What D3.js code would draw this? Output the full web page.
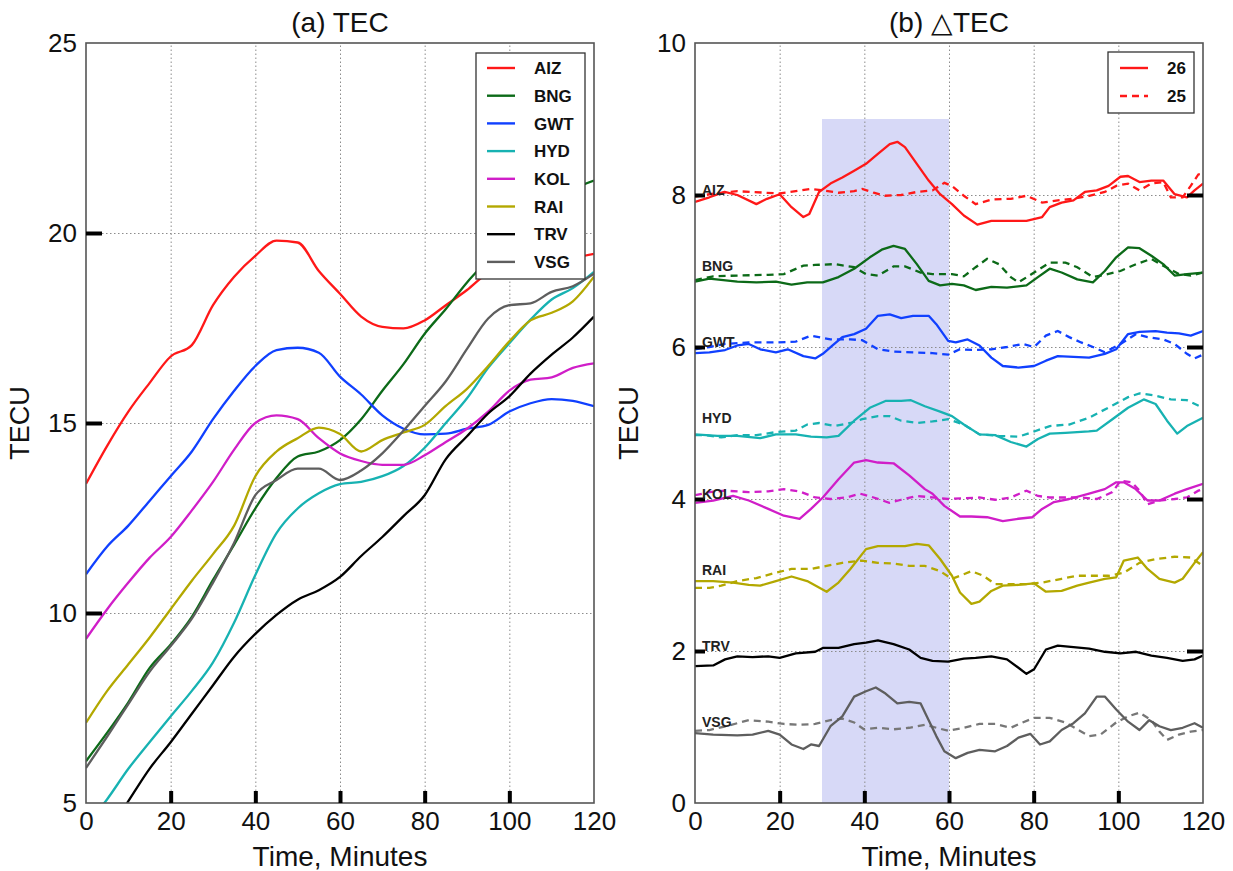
<!DOCTYPE html>
<html><head><meta charset="utf-8">
<script src="https://cdn.jsdelivr.net/npm/d3@7"></script>
<style>
body{margin:0;background:#fff;}
text{font-family:"Liberation Sans",Arial,Helvetica,sans-serif;}
</style></head><body>
<svg id="chart" width="1233" height="871"></svg>
<script>
// ---------------- DATA ----------------
const stations = ["AIZ","BNG","GWT","HYD","KOL","RAI","TRV","VSG"];
const stationColors = ["#ff1818","#0c6a18","#1040ff","#17b2b2","#d01ec8","#b3a800","#000000","#5e5e5e"];
const dashedColors  = ["#ff1818","#0c6a18","#1040ff","#17b2b2","#d01ec8","#b3a800","#000000","#777777"];

// (a) TEC, sampled every 5 minutes
const minutesA = [0,5,10,15,20,25,30,35,40,45,50,55,60,65,70,75,80,85,90,95,100,105,110,115,120];
const tecAIZ = [13.4,14.4,15.3,16.05,16.75,17.05,18.1,18.85,19.4,19.8,19.75,19.0,18.4,17.8,17.53,17.49,17.7,18.1,18.5,18.95,19.1,19.2,19.3,19.35,19.45];
const tecBNG = [6.1,6.85,7.65,8.55,9.17,9.9,10.87,11.8,12.75,13.55,14.12,14.25,14.55,15.1,15.85,16.55,17.35,18.0,18.7,19.3,19.9,20.4,20.8,21.15,21.38];
const tecGWT = [11.02,11.75,12.3,12.95,13.6,14.25,15.1,15.85,16.5,16.92,16.98,16.85,16.22,15.75,15.2,14.85,14.7,14.72,14.85,14.95,15.3,15.52,15.63,15.58,15.44];
const tecHYD = [4.4,5.1,5.9,6.6,7.28,7.95,8.7,9.75,11.0,12.1,12.75,13.15,13.39,13.45,13.6,13.87,14.35,15.0,15.65,16.45,17.1,17.72,18.25,18.55,18.98];
const tecKOL = [9.32,10.1,10.8,11.45,12.0,12.7,13.45,14.3,15.0,15.2,15.1,14.6,14.2,14.0,13.9,13.9,14.15,14.5,14.85,15.3,15.85,16.14,16.2,16.45,16.57];
const tecRAI = [7.11,7.95,8.65,9.35,10.1,10.85,11.55,12.3,13.6,14.25,14.6,14.88,14.71,14.25,14.55,14.75,14.95,15.45,15.9,16.5,17.15,17.7,17.9,18.2,18.85];
const tecTRV = [3.3,4.2,5.05,5.9,6.6,7.35,8.1,8.85,9.45,9.95,10.35,10.6,10.95,11.5,12.0,12.55,13.1,14.05,14.65,15.25,15.7,16.3,16.8,17.25,17.8];
const tecVSG = [5.92,6.75,7.6,8.45,9.13,9.85,10.8,11.85,13.1,13.5,13.8,13.8,13.5,13.75,14.2,14.8,15.45,16.1,16.95,17.75,18.1,18.15,18.45,18.6,18.93];
const tecSeries = [tecAIZ,tecBNG,tecGWT,tecHYD,tecKOL,tecRAI,tecTRV,tecVSG];

// (b) ΔTEC (offset per station), [minute, value] pairs; day 26 solid, day 25 dashed
const dAIZ26 = [[0,7.91],[3.4,7.97],[7,8.04],[10,8.0],[14.5,7.88],[17,7.95],[20,8.01],[22.8,7.84],[25.6,7.71],[27,7.75],[29.3,8.04],[32,8.15],[34.8,8.23],[37.6,8.32],[40.4,8.41],[43.2,8.54],[46,8.67],[47.8,8.70],[49.6,8.63],[52.4,8.41],[55.2,8.19],[57.9,8.01],[60.7,7.88],[63.5,7.73],[66.7,7.61],[70,7.66],[74.6,7.66],[78.3,7.66],[82,7.71],[83.8,7.84],[86.6,7.9],[89.4,7.93],[92.1,8.04],[94.9,8.06],[97.7,8.12],[100.5,8.24],[102.3,8.25],[105,8.17],[107.8,8.19],[110.6,8.19],[113.3,8.01],[116.2,7.97],[118,8.06],[120,8.15]];
const dAIZ25 = [[0,7.98],[3.4,8.01],[10,8.05],[20,8.02],[23.8,8.05],[27.4,8.08],[30.2,8.06],[33.9,8.03],[37.6,8.05],[39.5,8.08],[42.2,8.03],[44.9,7.99],[48.7,8.0],[52.4,8.04],[56.1,8.06],[58.9,8.16],[60.7,8.12],[63.5,7.99],[66.3,7.88],[70,7.94],[74.6,7.95],[78.3,7.99],[82,7.9],[85.7,7.93],[89.4,7.95],[93.1,7.99],[96.8,8.04],[99.5,8.12],[102.3,8.15],[105,8.06],[107.8,8.15],[110.6,8.17],[112.4,7.97],[115.2,7.97],[117.1,8.12],[118.9,8.27],[120,8.28]];
const dBNG26 = [[0,6.86],[3.4,6.9],[10,6.86],[14.5,6.85],[19.1,6.86],[22.8,6.82],[26.5,6.85],[30.2,6.85],[33.9,6.92],[37.6,7.03],[41.3,7.18],[44.1,7.28],[46.9,7.33],[49.6,7.29],[52.4,7.09],[55.2,6.87],[57.9,6.81],[60.7,6.83],[63.5,6.81],[66.3,6.75],[70,6.79],[73.7,6.78],[78.3,6.81],[81,6.92],[83.8,7.03],[86.6,6.98],[90.3,6.89],[94,6.85],[96.8,7.0],[99.5,7.18],[102.3,7.31],[105,7.3],[107.8,7.2],[110.6,7.09],[113.3,6.94],[116.2,6.96],[120,6.98]];
const dBNG25 = [[0,6.88],[4.3,6.93],[10,6.94],[17.3,6.95],[21,6.96],[25.6,7.07],[28.4,7.08],[33,7.09],[37.6,7.05],[40.4,6.96],[43.2,6.94],[46.9,7.06],[49.6,7.06],[53.3,6.98],[56.1,6.96],[60.7,6.96],[63.5,6.93],[66.3,7.05],[69,7.16],[71.8,7.09],[74.6,6.92],[76.4,6.85],[80.1,6.98],[83.8,7.11],[87.5,7.11],[90.3,7.05],[94,6.92],[96.8,6.95],[100.5,7.0],[104.2,7.09],[107.8,7.16],[110.6,7.07],[114.3,6.96],[117.1,6.94],[120,6.98]];
const dGWT26 = [[0,5.92],[3.4,5.93],[7.1,5.96],[10,6.02],[12.7,6.04],[15.4,5.97],[19.1,5.93],[21.9,5.97],[25.6,5.88],[28.4,5.85],[30.2,5.91],[32.5,6.02],[34.8,6.13],[37.6,6.17],[40.4,6.24],[43.2,6.41],[46,6.43],[48.7,6.38],[51.5,6.41],[55.2,6.41],[57,6.3],[59.8,6.08],[61.6,6.06],[64.4,6.1],[67.2,6.02],[70,5.86],[72.7,5.75],[76.4,5.73],[80.1,5.75],[82.9,5.82],[85.7,5.88],[89.4,5.87],[93.1,5.86],[96.8,5.91],[99.5,5.97],[102.3,6.17],[105,6.2],[108.8,6.21],[111.5,6.19],[114.3,6.18],[117.1,6.15],[120,6.21]];
const dGWT25 = [[0,5.97],[3.4,6.0],[7.1,6.04],[12.7,6.06],[19.1,6.06],[23.8,6.07],[27.4,6.15],[32,6.1],[36.7,6.1],[39.5,6.09],[43.2,5.97],[46.9,5.94],[51.5,5.93],[56.1,5.92],[59.8,5.9],[62.6,5.97],[66.3,5.96],[70,5.97],[73.7,6.0],[77.4,6.04],[80.1,6.0],[82.9,6.15],[85.7,6.21],[88.4,6.13],[91.2,6.06],[94,6.0],[96.8,5.93],[100.5,6.04],[104.2,6.17],[106.9,6.13],[110.6,6.1],[113.3,6.04],[116.2,5.91],[118,5.85],[120,5.9]];
const dHYD26 = [[0,4.85],[5.3,4.83],[10,4.83],[15.4,4.8],[19.1,4.85],[23.8,4.85],[27.4,4.82],[31.1,4.81],[33.9,4.83],[37.6,5.03],[41.3,5.2],[45,5.29],[48.7,5.29],[51,5.3],[54.3,5.22],[57.9,5.15],[60.7,5.09],[63.5,4.98],[67.2,4.85],[70.9,4.84],[74.6,4.75],[78.3,4.69],[81,4.79],[83.8,4.86],[87.5,4.87],[93,4.89],[94.9,4.9],[98.6,5.05],[102.3,5.2],[106,5.31],[108.8,5.25],[111.5,5.03],[113.9,4.86],[116.2,4.96],[120,5.07]];
const dHYD25 = [[0,4.84],[2.5,4.84],[6.2,4.81],[10,4.84],[14.5,4.84],[19.1,4.88],[23.8,4.9],[26.5,4.98],[29.3,5.0],[33,4.96],[36.7,5.0],[39.5,5.05],[43.2,5.09],[46,5.09],[48.7,5.03],[52.4,5.0],[56.1,5.02],[59.8,5.05],[63.5,4.98],[67.2,4.85],[71.8,4.83],[76.4,4.82],[79.2,4.87],[83.8,4.96],[88.4,4.98],[93.1,5.07],[98.6,5.23],[102.3,5.34],[105,5.39],[108.8,5.36],[112.4,5.31],[116.2,5.3],[120,5.2]];
const dKOL26 = [[0,3.95],[4.3,3.98],[9,4.04],[12.7,3.98],[17.3,3.87],[21,3.78],[24.7,3.74],[27.4,3.87],[30.2,4.02],[33.9,4.26],[37.6,4.48],[40.4,4.51],[43.2,4.48],[46.9,4.47],[50.6,4.31],[54.3,4.13],[56.1,4.07],[58.9,3.91],[62.6,3.77],[65.3,3.77],[69,3.76],[72.7,3.71],[76.4,3.74],[79.7,3.76],[82,3.87],[84.8,3.96],[88.4,4.0],[93.1,4.07],[96.8,4.13],[99.5,4.22],[101.3,4.22],[104.1,4.13],[106.9,3.98],[109.7,3.98],[113.3,4.07],[116.2,4.13],[120,4.2]];
const dKOL25 = [[0,4.05],[3.4,4.09],[7.1,4.11],[12.7,4.09],[17.3,4.1],[21,4.13],[24.7,4.1],[28.4,4.02],[32,4.0],[35.8,4.02],[39,4.07],[42.2,4.02],[45.9,3.95],[48.7,3.99],[52.4,4.04],[56.1,4.02],[59.8,4.0],[63.5,4.01],[67.2,4.02],[70.9,3.99],[74.6,4.02],[78.3,4.11],[81,4.04],[83.8,4.02],[87.5,4.02],[91.2,4.02],[94.9,4.0],[98.6,4.09],[100.5,4.24],[103.2,4.22],[105,4.11],[106.9,3.93],[109.7,3.98],[113.3,4.0],[116.2,4.02],[118.9,4.11],[120,4.13]];
const dRAI26 = [[0,2.92],[4.3,2.92],[9,2.9],[12.7,2.87],[15.4,2.86],[19.1,2.92],[22.8,2.98],[26.5,2.92],[31.1,2.78],[33.9,2.9],[36.7,3.08],[40.4,3.34],[43.2,3.38],[46.9,3.38],[49.6,3.38],[52.4,3.41],[55.2,3.39],[57.9,3.21],[60.7,2.99],[62.6,2.77],[65.3,2.62],[67.2,2.65],[70,2.79],[72.7,2.86],[76.4,2.87],[80.1,2.89],[82.9,2.78],[86.6,2.79],[90.3,2.86],[93.1,2.9],[96.8,2.95],[99.5,2.97],[101.3,3.19],[104.6,3.23],[106.9,3.08],[109.7,2.95],[113.3,2.9],[115.2,2.95],[118,3.16],[120,3.3]];
const dRAI25 = [[0,2.83],[3.4,2.83],[6.2,2.86],[10,2.92],[14.5,2.96],[19.1,3.03],[22.8,3.08],[27.4,3.08],[31.1,3.12],[34.8,3.16],[39.4,3.19],[43.2,3.16],[46.9,3.15],[50.6,3.12],[54.3,3.12],[57.9,3.05],[60.7,2.95],[63.5,3.01],[65.3,3.05],[68.1,2.99],[70.9,2.88],[74.6,2.88],[78.3,2.88],[82,2.9],[86.6,2.95],[90.3,2.99],[94,2.99],[97.7,2.99],[101.3,3.03],[105,3.16],[108.8,3.21],[113.3,3.24],[117.1,3.23],[120,3.12]];
const dTRV26 = [[0,1.8],[4.3,1.81],[7.1,1.89],[10,1.93],[13.6,1.92],[17.3,1.93],[20,1.91],[23.8,1.97],[28.4,1.99],[30.2,2.04],[33.9,2.04],[37.6,2.09],[40.4,2.11],[43.2,2.14],[46.9,2.09],[50.6,2.02],[53.3,1.91],[56.1,1.87],[59.8,1.86],[63.5,1.9],[66.3,1.91],[70,1.93],[73.7,1.89],[76.4,1.78],[78.3,1.7],[80.1,1.76],[82.9,2.02],[85.7,2.07],[89.4,2.05],[93.1,2.03],[96.8,1.99],[100.5,1.97],[104.2,1.99],[107.8,1.94],[111.5,1.91],[115.2,1.87],[118,1.89],[120,1.94]];
const dTRV25 = [];
const dVSG26 = [[0,0.92],[4.3,0.9],[10,0.89],[13.6,0.9],[17.3,0.95],[20,0.9],[22.8,0.77],[25.6,0.71],[27.4,0.77],[29.3,0.75],[32,1.01],[34.8,1.14],[37.6,1.4],[40.4,1.47],[42.7,1.52],[45,1.44],[47.8,1.31],[50.6,1.33],[53.3,1.31],[55.2,1.09],[57,0.88],[58.9,0.68],[61.6,0.59],[64.4,0.66],[67.2,0.7],[70.9,0.68],[73.7,0.75],[76.4,0.86],[79.2,0.91],[81.5,0.77],[83.8,0.81],[86.6,0.96],[89.4,1.05],[92.1,1.18],[94.9,1.4],[96.8,1.4],[99.5,1.23],[102.3,1.07],[105,0.96],[107.3,1.09],[109.7,1.01],[112.4,0.96],[115.2,0.99],[118,1.05],[120,0.99]];
const dVSG25 = [[0,0.95],[3.4,0.96],[8,1.02],[12.7,1.09],[17.3,1.07],[21,1.04],[24.7,1.03],[28.4,1.04],[32,1.09],[34.8,1.11],[37.6,1.06],[39.9,0.97],[43.2,0.99],[46.9,0.97],[50.6,0.99],[54.3,1.03],[57,0.99],[59.8,0.95],[63.5,0.99],[67.2,1.04],[70.9,1.04],[74.6,0.99],[77.4,1.06],[80.1,1.12],[83.8,1.12],[87.5,1.06],[90.3,0.97],[93.1,0.88],[95.8,0.9],[99.5,1.06],[102.3,1.14],[105,1.19],[107.8,1.09],[109.7,0.94],[111.5,0.83],[114.3,0.9],[117.1,0.94],[120,0.96]];
const day26 = [dAIZ26,dBNG26,dGWT26,dHYD26,dKOL26,dRAI26,dTRV26,dVSG26];
const day25 = [dAIZ25,dBNG25,dGWT25,dHYD25,dKOL25,dRAI25,dTRV25,dVSG25];
const labelLevels = [8.07,7.07,6.07,5.07,4.07,3.07,2.07,1.07];
const dayLabels = ["26","25"];
const shadeWindow = [30,60,9];   // minutes start, end, top value

const xTicks = [0,20,40,60,80,100,120];
const yTicksA = [5,10,15,20,25];
const yTicksB = [0,2,4,6,8,10];

// ---------------- DRAW ----------------
const svg = d3.select("#chart");
const FS = 26;     // tick labels
const FT = 28;     // titles / x label
const FY = 27;     // y label

function panel(x0, x1, yDom, yTicks, innerY, id, title){
  const top = 43, bot = 803;
  const x = d3.scaleLinear().domain([0,120]).range([x0,x1]);
  const y = d3.scaleLinear().domain(yDom).range([bot,top]);
  const g = svg.append("g");
  svg.append("clipPath").attr("id",id).append("rect")
     .attr("x",x0).attr("y",top).attr("width",x1-x0).attr("height",bot-top);
  return {x,y,g,top,bot,x0,x1,yTicks,innerY,title};
}

function gridAndAxes(p){
  const {x,y,g,top,bot,x0,x1} = p;
  const grid = g.append("g");
  grid.append("g").attr("transform",`translate(0,${bot})`)
    .call(d3.axisBottom(x).tickValues([20,40,60,80,100]).tickSize(-(bot-top)).tickFormat(""));
  grid.append("g").attr("transform",`translate(${x0},0)`)
    .call(d3.axisLeft(y).tickValues(p.innerY).tickSize(-(x1-x0)).tickFormat(""));
  grid.selectAll(".domain").remove();
  grid.selectAll("line").attr("stroke","#8c8c8c").attr("stroke-width",1).attr("stroke-dasharray","1.5,2.5");
  return grid;
}

function frameAndTicks(p, rightTicks, leftTickLen){
  const {x,y,g,top,bot,x0,x1} = p;
  g.append("rect").attr("x",x0).attr("y",top).attr("width",x1-x0).attr("height",bot-top)
    .attr("fill","none").attr("stroke","#555").attr("stroke-width",1.6);
  const tk = g.append("g");
  tk.append("g").attr("transform",`translate(0,${bot})`)
    .call(d3.axisBottom(x).tickValues([20,40,60,80,100]).tickSize(-12).tickFormat(""));
  tk.append("g").attr("transform",`translate(${x0},0)`)
    .call(d3.axisLeft(y).tickValues(p.innerY).tickSize(-leftTickLen).tickFormat(""));
  if(rightTicks){
    tk.append("g").attr("transform",`translate(${x1},0)`)
      .call(d3.axisRight(y).tickValues(p.innerY).tickSize(-16).tickFormat(""));
  }
  tk.selectAll(".domain").remove();
  tk.selectAll("line").attr("stroke","#000").attr("stroke-width",4);
  const lx = g.append("g").attr("transform",`translate(0,${bot})`)
    .call(d3.axisBottom(x).tickValues(xTicks).tickSize(0).tickPadding(9).tickFormat(d3.format("d")));
  const ly = g.append("g").attr("transform",`translate(${x0},0)`)
    .call(d3.axisLeft(y).tickValues(p.yTicks).tickSize(0).tickPadding(9).tickFormat(d3.format("d")));
  [lx,ly].forEach(a=>{a.select(".domain").remove();
    a.selectAll("text").attr("font-size",FS).attr("fill","#111").style("font-family","Liberation Sans, Arial, sans-serif");});
  const cx = (x0+x1)/2;
  g.append("text").attr("x",cx).attr("y",32).attr("text-anchor","middle").attr("font-size",FT).attr("fill","#111").text(p.title);
  g.append("text").attr("x",cx).attr("y",866).attr("text-anchor","middle").attr("font-size",FT).attr("fill","#111").text("Time, Minutes");
  g.append("text").attr("transform",`translate(${x0-57},${(top+bot)/2}) rotate(-90)`)
    .attr("text-anchor","middle").attr("font-size",FY).attr("fill","#111").text("TECU");
}

// ---- Panel (a)
const pa = panel(86,594,[5,25],yTicksA,[10,15,20],"clipA","(a) TEC");
gridAndAxes(pa);
const lineA = d3.line().x((d,i)=>pa.x(minutesA[i])).y(d=>pa.y(d)).curve(d3.curveMonotoneX);
const linesA = pa.g.append("g").attr("clip-path","url(#clipA)");
tecSeries.forEach((s,i)=>{
  linesA.append("path").datum(s).attr("d",lineA).attr("fill","none")
    .attr("stroke",stationColors[i]).attr("stroke-width",2.3).attr("stroke-linejoin","round");
});
frameAndTicks(pa,false,16);
const legA = pa.g.append("g");
legA.append("rect").attr("x",476).attr("y",53).attr("width",109).attr("height",226)
  .attr("fill","#fff").attr("stroke","#333").attr("stroke-width",1.3);
stations.forEach((s,i)=>{
  const yy = 68 + i*27.7;
  legA.append("line").attr("x1",487).attr("x2",515).attr("y1",yy).attr("y2",yy)
    .attr("stroke",stationColors[i]).attr("stroke-width",2.4);
  legA.append("text").attr("x",534).attr("y",yy).attr("dy","0.36em").attr("font-size",17)
    .attr("font-weight","bold").attr("fill","#111").text(s);
});

// ---- Panel (b)
const pb = panel(695,1203,[0,10],yTicksB,[2,4,6,8],"clipB","(b) \u25B3TEC");
pb.g.append("rect").attr("x",pb.x(shadeWindow[0])).attr("y",pb.y(shadeWindow[2]))
  .attr("width",pb.x(shadeWindow[1])-pb.x(shadeWindow[0])).attr("height",pb.y(0)-pb.y(shadeWindow[2]))
  .attr("fill","#d7d9f7");
gridAndAxes(pb);
const lineB = d3.line().x(d=>pb.x(d[0])).y(d=>pb.y(d[1])).curve(d3.curveLinear);
const linesB = pb.g.append("g").attr("clip-path","url(#clipB)");
day25.forEach((s,i)=>{
  if(!s.length) return;
  linesB.append("path").datum(s).attr("d",lineB).attr("fill","none")
    .attr("stroke",dashedColors[i]).attr("stroke-width",2.3).attr("stroke-dasharray","7,5");
});
day26.forEach((s,i)=>{
  linesB.append("path").datum(s).attr("d",lineB).attr("fill","none")
    .attr("stroke",stationColors[i]).attr("stroke-width",2.3).attr("stroke-linejoin","round");
});
frameAndTicks(pb,true,10);
stations.forEach((s,i)=>{
  pb.g.append("text").attr("x",702).attr("y",pb.y(labelLevels[i])).attr("dy","0.36em")
    .attr("font-size",14).attr("font-weight","bold").attr("fill","#222").text(s);
});
const legB = pb.g.append("g");
legB.append("rect").attr("x",1108).attr("y",52).attr("width",86).attr("height",61)
  .attr("fill","#fff").attr("stroke","#333").attr("stroke-width",1.3);
dayLabels.forEach((d,i)=>{
  const yy = 68 + i*28;
  legB.append("line").attr("x1",1120).attr("x2",1148).attr("y1",yy).attr("y2",yy)
    .attr("stroke",stationColors[0]).attr("stroke-width",2.4).attr("stroke-dasharray", i? "7,5":null);
  legB.append("text").attr("x",1186).attr("y",yy).attr("dy","0.36em").attr("text-anchor","end")
    .attr("font-size",17).attr("font-weight","bold").attr("fill","#111").text(d);
});
</script>
</body></html>
